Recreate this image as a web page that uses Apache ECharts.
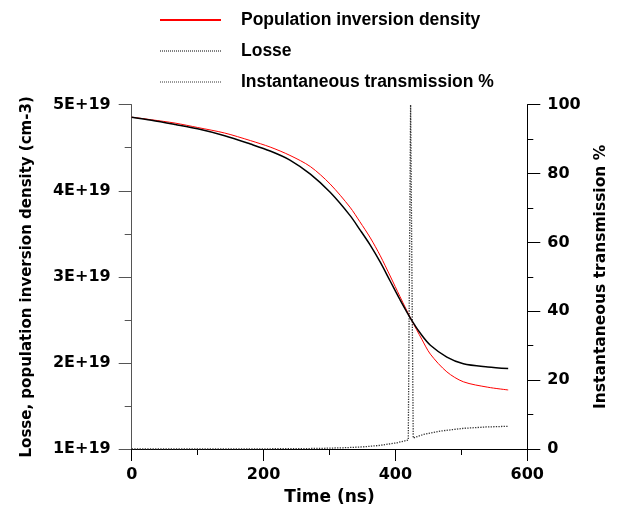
<!DOCTYPE html>
<html>
<head>
<meta charset="utf-8">
<script src="https://cdn.jsdelivr.net/npm/echarts@6/dist/echarts.min.js"></script>
<style>
html,body{margin:0;padding:0;background:#fff;}
#chart{width:621px;height:511px;}
</style>
</head>
<body>
<div id="chart"></div>
<script>
// Time axis (ns) for inversion density and losses
var timeNs = [0, 30, 66, 100, 141, 180, 210, 240, 271, 301, 331, 346, 362, 377, 392, 407, 424, 440, 453, 478, 503, 540, 571];
// Population inversion density (units of 1E+19 cm-3)
var inversion = [4.855, 4.825, 4.786, 4.735, 4.671, 4.583, 4.508, 4.411, 4.281, 4.078, 3.810, 3.641, 3.452, 3.245, 3.010, 2.769, 2.504, 2.275, 2.102, 1.896, 1.781, 1.718, 1.686];
// Losses (units of 1E+19 cm-3)
var losse = [4.855, 4.82, 4.77, 4.72, 4.64, 4.543, 4.462, 4.357, 4.193, 3.982, 3.714, 3.549, 3.366, 3.170, 2.952, 2.734, 2.504, 2.321, 2.206, 2.068, 1.991, 1.953, 1.934];
// Instantaneous transmission (%)
var transTime = [0, 100, 200, 280, 320, 350, 377, 402, 419.5, 423, 427, 442, 468, 503, 538, 571];
var transmission = [0, 0, 0.05, 0.15, 0.35, 0.6, 1.06, 1.8, 2.6, 100, 3.2, 4.2, 5.2, 6.0, 6.4, 6.6];
// Axis ticks
var xTicks = [0, 200, 400, 600];
var leftTicks = [1, 2, 3, 4, 5];     // x 1E+19
var rightTicks = [0, 20, 40, 60, 80, 100];

var seriesNames = ['Population inversion density', 'Losse', 'Instantaneous transmission %'];

function pairs(xs, ys, scale) {
  return xs.map(function (x, i) { return [x, ys[i] * scale]; });
}

var tickFont = {fontFamily: 'DejaVu Sans', fontWeight: 'bold', fontSize: 16, color: '#000'};
var nameFontBase = {fontFamily: 'DejaVu Sans', fontWeight: 'bold', color: '#000'};

var chart = echarts.init(document.getElementById('chart'), null, {renderer: 'canvas'});
chart.setOption({
  animation: false,
  backgroundColor: '#fff',
  grid: {left: 131.7, right: 93.7, top: 104.7, bottom: 58, containLabel: false},
  legend: {
    orient: 'vertical',
    left: 159,
    top: 10,
    padding: 0,
    itemWidth: 61,
    itemHeight: 14,
    itemGap: 11,
    selectedMode: false,
    itemStyle: {opacity: 0},
    textStyle: {fontFamily: 'Liberation Sans', fontWeight: 'bold', fontSize: 17.5, color: '#000', lineHeight: 20, padding: [0, 0, 0, 15]},
    data: [
      {name: seriesNames[0]},
      {name: seriesNames[1], lineStyle: {type: 'dotted', width: 1, color: '#000'}},
      {name: seriesNames[2], lineStyle: {type: 'dotted', width: 1, color: '#333'}}
    ]
  },
  xAxis: {
    type: 'value',
    min: xTicks[0],
    max: xTicks[xTicks.length - 1],
    interval: 200,
    name: 'Time (ns)',
    nameLocation: 'middle',
    nameGap: 40,
    nameTextStyle: Object.assign({fontSize: 17}, nameFontBase),
    axisLine: {show: true, onZero: false, lineStyle: {color: '#000', width: 1}},
    axisTick: {show: true, inside: false, length: 12, lineStyle: {color: '#000'}},
    minorTick: {show: true, splitNumber: 2, length: 6, lineStyle: {color: '#000'}},
    axisLabel: Object.assign({margin: 18}, tickFont),
    splitLine: {show: false}
  },
  yAxis: [
    {
      type: 'value',
      min: leftTicks[0] * 1e19,
      max: leftTicks[leftTicks.length - 1] * 1e19,
      interval: 1e19,
      name: 'Losse, population inversion density (cm-3)',
      nameLocation: 'middle',
      nameRotate: 90,
      nameGap: 97,
      nameTextStyle: Object.assign({fontSize: 15}, nameFontBase),
      axisLine: {show: true, onZero: false, lineStyle: {color: '#555', width: 1}},
      axisTick: {show: true, inside: false, length: 13, lineStyle: {color: '#555'}},
      minorTick: {show: true, splitNumber: 2, length: 7, lineStyle: {color: '#555'}},
      axisLabel: Object.assign({margin: 21, formatter: function (v) { return Math.round(v / 1e19) + 'E+19'; }}, tickFont),
      splitLine: {show: false}
    },
    {
      type: 'value',
      position: 'right',
      min: rightTicks[0],
      max: rightTicks[rightTicks.length - 1],
      interval: 20,
      name: 'Instantaneous transmission %',
      nameLocation: 'middle',
      nameRotate: 90,
      nameGap: 66,
      nameTextStyle: Object.assign({fontSize: 15.5}, nameFontBase),
      axisLine: {show: true, onZero: false, lineStyle: {color: '#000', width: 1}},
      axisTick: {show: true, inside: false, length: 13, lineStyle: {color: '#000'}},
      minorTick: {show: true, splitNumber: 2, length: 6, lineStyle: {color: '#000'}},
      axisLabel: Object.assign({margin: 20}, tickFont),
      splitLine: {show: false}
    }
  ],
  series: [
    {
      name: seriesNames[0],
      type: 'line',
      yAxisIndex: 0,
      symbol: 'none',
      smooth: 0.3,
      lineStyle: {color: '#ff0000', width: 1},
      itemStyle: {color: '#ff0000'},
      data: pairs(timeNs, inversion, 1e19),
      z: 3
    },
    {
      name: seriesNames[1],
      type: 'line',
      yAxisIndex: 0,
      symbol: 'none',
      smooth: 0.3,
      lineStyle: {color: '#000', width: 1.5},
      itemStyle: {color: '#000'},
      data: pairs(timeNs, losse, 1e19),
      z: 4
    },
    {
      name: seriesNames[2],
      type: 'line',
      yAxisIndex: 1,
      symbol: 'none',
      smooth: false,
      lineStyle: {color: '#333', width: 1.3, type: 'dotted'},
      itemStyle: {color: '#333'},
      data: pairs(transTime, transmission, 1),
      z: 2
    }
  ]
});
</script>
</body>
</html>
